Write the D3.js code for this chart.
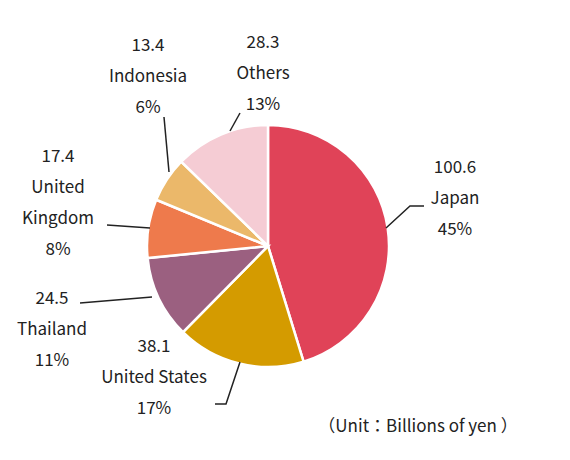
<!DOCTYPE html>
<html><head><meta charset="utf-8">
<script src="https://cdn.jsdelivr.net/npm/d3@7"></script>
<style>body{margin:0;background:#fff}text{font-family:"Noto Sans CJK JP","Noto Sans",sans-serif;font-size:17px;fill:#222}</style>
</head><body><div id="chart"></div>
<script>
var categories = ["Japan", "United States", "Thailand", "United Kingdom", "Indonesia", "Others"];
var values = [100.6, 38.1, 24.5, 17.4, 13.4, 28.3];
var percents = ["45%", "17%", "11%", "8%", "6%", "13%"];
var colors = ["#E04358", "#D49B00", "#9B6080", "#EE7A4C", "#EBB86A", "#F5CCD4"];

// label layout: text lines at x, first line y, line gap
var labelPos = [
  {x: 455, y: 173, lines: ["100.6", "Japan", "45%"]},
  {x: 154, y: 352, lines: ["38.1", "United States", "17%"]},
  {x: 52, y: 304, lines: ["24.5", "Thailand", "11%"]},
  {x: 58, y: 162, lines: ["17.4", "United", "Kingdom", "8%"]},
  {x: 148, y: 51, lines: ["13.4", "Indonesia", "6%"]},
  {x: 263, y: 48, lines: ["28.3", "Others", "13%"]}
];
var leaders = [
  [[386, 228], [410, 206], [424, 206]],
  [[240, 362], [226, 404], [215, 404]],
  [[152, 297], [80, 303]],
  [[150, 228], [107, 225]],
  [[169, 172], [164, 117]],
  [[230, 131], [240, 113]]
];

var svg = d3.select("#chart").append("svg").attr("width", 570).attr("height", 460);
var cx = 268, cy = 246, r = 121;

var pie = d3.pie().sort(null).value(function(d){ return d; });
var arc = d3.arc().innerRadius(0).outerRadius(r);

svg.append("g").attr("transform", `translate(${cx},${cy})`)
  .selectAll("path").data(pie(values)).enter().append("path")
  .attr("d", arc)
  .attr("fill", function(d, i){ return colors[i]; })
  .attr("stroke", "#fff").attr("stroke-width", 2.5);

svg.selectAll("polyline").data(leaders).enter().append("polyline")
  .attr("points", function(d){ return d.map(function(p){ return p.join(","); }).join(" "); })
  .attr("fill", "none").attr("stroke", "#222").attr("stroke-width", 1.5);

labelPos.forEach(function(l){
  l.lines.forEach(function(t, j){
    svg.append("text").attr("x", l.x).attr("y", l.y + j * 31)
      .attr("text-anchor", "middle").text(t);
  });
});

svg.append("text").attr("x", 418).attr("y", 432).attr("text-anchor", "middle")
  .text("（Unit：Billions of yen ）");
</script></body></html>
